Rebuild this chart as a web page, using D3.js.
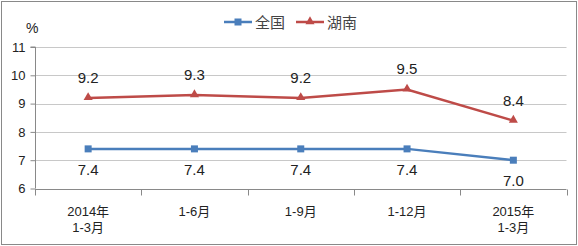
<!DOCTYPE html>
<html><head><meta charset="utf-8">
<script src="https://cdn.jsdelivr.net/npm/d3@7"></script>
<style>
body{margin:0;background:#fff;}
svg{display:block;font-family:"Liberation Sans","Noto Sans CJK SC",sans-serif;}
</style></head><body>
<svg id="c" width="578" height="246"></svg>
<script>
const categories = [["2014年","1-3月"],["1-6月"],["1-9月"],["1-12月"],["2015年","1-3月"]];
const national = [7.4, 7.4, 7.4, 7.4, 7.0];
const hunan = [9.2, 9.3, 9.2, 9.5, 8.4];
const seriesNames = ["全国", "湖南"];
const yTicks = [6, 7, 8, 9, 10, 11];
const colors = ["#4A7EBB", "#BE4B48"];

const svg = d3.select("#c");
svg.append("rect").attr("x",1.5).attr("y",1.5).attr("width",575).attr("height",243)
  .attr("fill","#fff").attr("stroke","#898989").attr("stroke-width",1);

const x = d3.scaleBand().domain(d3.range(categories.length)).range([35, 566.5]);
const y = d3.scaleLinear().domain([6, 11]).range([188.5, 47]);

// gridlines
svg.append("g").selectAll("line").data(yTicks.slice(1)).join("line")
  .attr("x1",35).attr("x2",566.5).attr("y1",d=>Math.round(y(d))+0.5).attr("y2",d=>Math.round(y(d))+0.5)
  .attr("stroke","#c8c8c8").attr("stroke-width",1);

// y axis
const ya = svg.append("g").attr("transform","translate(35.5,0)")
  .call(d3.axisLeft(y).tickValues(yTicks).tickSize(5).tickPadding(5).tickFormat(d3.format("d")));
ya.select(".domain").attr("stroke","#898989").attr("d","M-5,"+y(11)+"H0V"+y(6));
ya.selectAll(".tick line").attr("stroke","#898989");
ya.selectAll("text").attr("font-size",13).attr("fill","#222").attr("font-family","Liberation Sans, sans-serif");

// x axis
const xa = svg.append("g").attr("transform","translate(0,"+(Math.round(y(6))+0.5)+")");
xa.append("line").attr("x1",35).attr("x2",566.5).attr("stroke","#898989");
const bounds = d3.range(categories.length+1).map(i=> i<categories.length ? x(i) : x(i-1)+x.bandwidth());
xa.selectAll(".tk").data(bounds).join("line").attr("class","tk")
  .attr("x1",d=>Math.round(d)+0.5).attr("x2",d=>Math.round(d)+0.5).attr("y1",0).attr("y2",6).attr("stroke","#898989");
categories.forEach((lines,i)=>{
  const t = xa.append("text").attr("x",x(i)+x.bandwidth()/2).attr("text-anchor","middle")
    .attr("font-size",13).attr("fill","#222").attr("font-family","Liberation Sans, Noto Sans CJK SC, sans-serif");
  lines.forEach((l,j)=>t.append("tspan").attr("x",x(i)+x.bandwidth()/2).attr("y",26+j*16).text(l));
});

// % label
svg.append("text").attr("x",26).attr("y",33).attr("font-size",14).attr("fill","#222").text("%");

const cx = i => x(i)+x.bandwidth()/2;
const line = d3.line().x((d,i)=>cx(i)).y(d=>y(d));

// national
svg.append("path").datum(national).attr("d",line).attr("fill","none")
  .attr("stroke",colors[0]).attr("stroke-width",2.5);
svg.append("g").selectAll("rect").data(national).join("rect")
  .attr("x",(d,i)=>cx(i)-3.5).attr("y",d=>y(d)-3.5).attr("width",7).attr("height",7).attr("fill",colors[0]);
svg.append("g").selectAll("text").data(national).join("text")
  .attr("x",(d,i)=>cx(i)).attr("y",d=>y(d)+26).attr("text-anchor","middle")
  .attr("font-size",15).attr("fill","#222").text(d=>d.toFixed(1));

// hunan
svg.append("path").datum(hunan).attr("d",line).attr("fill","none")
  .attr("stroke",colors[1]).attr("stroke-width",2.5);
const tri = d3.symbol().type(d3.symbolTriangle).size(36);
svg.append("g").selectAll("path").data(hunan).join("path")
  .attr("transform",(d,i)=>"translate("+cx(i)+","+(y(d)-0.5)+")").attr("d",tri).attr("fill",colors[1]);
svg.append("g").selectAll("text").data(hunan).join("text")
  .attr("x",(d,i)=>cx(i)).attr("y",d=>y(d)-15).attr("text-anchor","middle")
  .attr("font-size",15).attr("fill","#222").text(d=>d.toFixed(1));

// legend
const leg = [{x:224, name:seriesNames[0]},{x:296, name:seriesNames[1]}];
leg.forEach((L,k)=>{
  const g = svg.append("g");
  g.append("line").attr("x1",L.x).attr("x2",L.x+28).attr("y1",22).attr("y2",22)
    .attr("stroke",colors[k]).attr("stroke-width",2.5);
  if(k===0) g.append("rect").attr("x",L.x+10.5).attr("y",18.5).attr("width",7).attr("height",7).attr("fill",colors[k]);
  else g.append("path").attr("transform","translate("+(L.x+14)+",21.5)").attr("d",tri).attr("fill",colors[k]);
  g.append("text").attr("x",L.x+31).attr("y",27.5).attr("font-size",15).attr("fill","#444")
    .attr("font-family","Noto Sans CJK SC, sans-serif").text(L.name);
});
</script></body></html>
